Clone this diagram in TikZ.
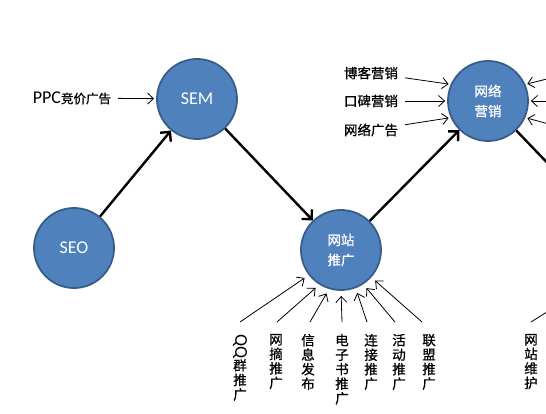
\documentclass[tikz,border=0pt]{standalone}
\usepackage{graphicx}
\usepackage{fontspec}
\setmainfont{Carlito}
\newfontfamily\cjk[FakeBold=0.8]{Noto Sans CJK SC}
\usetikzlibrary{arrows.meta}
\definecolor{ballfill}{HTML}{4F81BD}
\definecolor{ballline}{HTML}{385D8A}
\newcommand\latin{\rmfamily\fontsize{18}{18}\selectfont}

\begin{document}
\begin{tikzpicture}[x=1pt, y=-1pt,
      ball/.style = {circle, fill=ballfill, draw=ballline, line width=1.8pt,
                     minimum size=80pt, inner sep=0pt, text=white, align=center,
                     font=\fontsize{18}{20}\selectfont},
        zh/.style = {font=\cjk\fontsize{13.5}{20}\selectfont},
       lbl/.style = {font=\cjk\fontsize{13.5}{14.5}\selectfont,
                     inner sep=0pt, outer sep=7pt, anchor=east},
      vlbl/.style = {lbl, font=\cjk\fontsize{13.5}{14.5}\selectfont,
                     align=center, anchor=north, outer sep=12pt},
      flow/.style = {line width=2.4pt, -{Straight Barb[length=7pt, width=14pt]}},
      feed/.style = {line width=0.8pt, shorten >=2pt,
                     -{Straight Barb[length=6pt, width=11pt]}},
every edge/.style = {draw}
                        ]
\useasboundingbox (0,0) rectangle (546,414);
\clip (0,0) rectangle (546,414);
\node (seo) at (74,248) [ball] {SEO};
\node (sem) at (197,99) [ball] {SEM};
\node (tg) at (341,250) [ball, zh] {网站\\推广};
\node (yx) at (488,101) [ball, zh] {网络\\营销};
\coordinate (next) at (604,222);
\coordinate (next_in) at (596,281);
\coordinate (r1) at (571,73);
\coordinate (r2) at (571,101);
\coordinate (r3) at (571,130);

\node (ppc) at (118,98) [lbl, font=\cjk\fontsize{12.5}{14}\selectfont] {{\latin PPC}竞价广告};
\node (bk) at (405,73) [lbl] {博客营销};
\node (kb) at (405,101) [lbl] {口碑营销};
\node (gg) at (405,130) [lbl] {网络广告};

\node (qq) at (240,322) [vlbl] {\rotatebox[origin=c]{-90}{\latin QQ}\\群\\推\\广};
\node (wz) at (276,322) [vlbl] {网\\摘\\推\\广};
\node (xx) at (308,322) [vlbl] {信\\息\\发\\布};
\node (dzs) at (342,322) [vlbl] {电\\子\\书\\推\\广};
\node (lj) at (371,322) [vlbl] {连\\接\\推\\广};
\node (hd) at (399,322) [vlbl] {活\\动\\推\\广};
\node (lm) at (429,322) [vlbl] {联\\盟\\推\\广};
\node (wh) at (531,322) [vlbl] {网\\站\\维\\护};

%

\path   (seo) edge[flow] (sem)
        (sem) edge[flow] (tg)
        (tg) edge[flow] (yx)
        (yx) edge[flow] (next)
        (ppc) edge[feed] (sem)
        (bk) edge[feed] (yx.156)
        (kb) edge[feed] (yx.180)
        (gg) edge[feed] (yx.204)
        (r1) edge[feed] (yx.24)
        (r2) edge[feed] (yx.0)
        (r3) edge[feed] (yx.-24)
        (qq.north) edge[feed, shorten >=5pt] (tg.-142)
        ([xshift=1pt]wz.north) edge[feed, shorten >=5pt] (tg.-122)
        ([xshift=2pt]xx.north) edge[feed, shorten >=5pt] (tg.-107)
        (dzs.north) edge[feed, shorten >=5pt] (tg.-90)
        ([xshift=-4pt]lj.north) edge[feed, shorten >=5pt] (tg.-69)
        ([xshift=-4pt]hd.north) edge[feed, shorten >=5pt] (tg.-57)
        ([xshift=-7pt]lm.north) edge[feed, shorten >=5pt] (tg.-42)
        (wh.north) edge[feed] (next_in);
    \end{tikzpicture}
\end{document}
